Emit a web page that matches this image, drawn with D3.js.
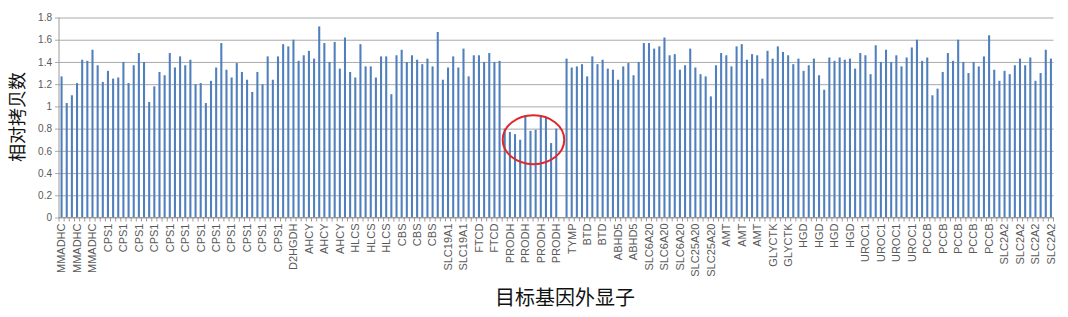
<!DOCTYPE html>
<html>
<head>
<meta charset="utf-8">
<script src="https://cdn.jsdelivr.net/npm/d3@7"></script>
<style>
  body { margin: 0; background: #fff; }
  svg { display: block; }
</style>
</head>
<body>
<div class="chart"></div>
<script>
//// data

// shown category labels (every 3rd category carries one)
const tickLabels = ['MMADHC','MMADHC','MMADHC',
    'CPS1','CPS1','CPS1','CPS1','CPS1','CPS1','CPS1','CPS1','CPS1','CPS1','CPS1','CPS1',
    'D2HGDH','AHCY','AHCY','AHCY','HLCS','HLCS','HLCS','CBS','CBS','CBS',
    'SLC19A1','SLC19A1','FTCD','FTCD','PRODH','PRODH','PRODH','PRODH','TYMP',
    'BTD','BTD','ABHD5','ABHD5','SLC6A20','SLC6A20','SLC6A20','SLC25A20','SLC25A20',
    'AMT','AMT','AMT','GLYCTK','GLYCTK','HGD','HGD','HGD','HGD',
    'UROC1','UROC1','UROC1','UROC1','PCCB','PCCB','PCCB','PCCB','PCCB',
    'SLC2A2','SLC2A2','SLC2A2','SLC2A2'];

// relative copy number for each exon amplicon
const copyNumber = [
    1.27,1.03,1.10,1.21,1.42,1.41,1.51,1.37,1.22,1.32,1.25,1.26,1.40,1.21,1.37,1.48,1.40,1.04,1.18,1.31,1.28,1.48,1.35,1.45,1.37,1.42,1.20,1.21,
    1.03,1.23,1.35,1.57,1.33,1.26,1.39,1.31,1.24,1.13,1.31,1.20,1.45,1.24,1.45,1.56,1.54,1.60,1.41,1.46,1.50,1.43,1.72,1.57,1.40,1.58,1.34,1.62,
    1.31,1.26,1.56,1.36,1.36,1.26,1.45,1.45,1.11,1.46,1.51,1.40,1.46,1.42,1.38,1.43,1.36,1.67,1.24,1.35,1.45,1.35,1.52,1.27,1.46,1.46,1.40,1.48,
    1.40,1.41,0.80,0.77,0.75,0.70,0.92,0.78,0.79,0.92,0.90,0.67,0.80,null,1.43,1.35,1.36,1.38,1.27,1.45,1.38,1.42,1.34,1.33,1.24,1.36,1.39,
    1.28,1.40,1.57,1.57,1.52,1.54,1.62,1.46,1.47,1.33,1.37,1.52,1.35,1.29,1.27,1.09,1.37,1.48,1.46,1.36,1.54,1.56,1.42,1.47,1.46,1.25,1.50,1.43,
    1.54,1.49,1.46,1.38,1.43,1.32,1.37,1.43,1.28,1.15,1.44,1.41,1.44,1.42,1.43,1.34,1.48,1.46,1.29,1.55,1.40,1.51,1.40,1.46,1.36,1.44,1.53,1.60,
    1.41,1.44,1.10,1.16,1.31,1.48,1.41,1.60,1.40,1.30,1.40,1.36,1.45,1.64,1.33,1.23,1.32,1.29,1.37,1.43,1.37,1.44,1.23,1.30,1.51,1.43];

const yTicks = [0,0.2,0.4,0.6,0.8,1,1.2,1.4,1.6,1.8];

// the circled PRODH bars
const circled = [86, 96];

const yTitle = '相对拷贝数';
const xTitle = '目标基因外显子';


//// build it

const data = copyNumber.map((v,i) => {
    return {
        idx: i,
        gene: tickLabels[Math.floor(i/3)],
        value: v
    }
});

const W = 1068, H = 317;
const plotL = 59, plotR = 1053.5, plotT = 17.5, plotB = 217.5;

const svg = d3.select('.chart')
    .append('svg')
    .attr('width', W)
    .attr('height', H);

const x = d3.scaleBand()
    .domain(data.map(d => d.idx))
    .range([plotL, plotR])
    .paddingInner(0.6)
    .paddingOuter(0.3);

const y = d3.scaleLinear()
    .domain([0, 1.8])
    .range([plotB, plotT]);

// gridlines + y axis
const yAxis = d3.axisLeft(y)
    .tickValues(yTicks)
    .tickSize(-(plotR - plotL))
    .tickPadding(7)
    .tickFormat(d => d3.format('~g')(d));

const gy = svg.append('g')
    .attr('transform', `translate(${plotL},0)`)
    .call(yAxis);
gy.select('.domain').remove();
gy.selectAll('.tick line')
    .attr('x1', -4)
    .style('stroke', '#a9a9a9')
    .style('stroke-width', 1);
gy.selectAll('.tick text')
    .style('font-family', '"Liberation Sans", Arial, sans-serif')
    .style('font-size', '10px')
    .style('fill', '#595959');

svg.append('line')
    .attr('x1', plotL).attr('x2', plotL)
    .attr('y1', plotT).attr('y2', plotB)
    .style('stroke', '#9a9a9a')
    .style('stroke-width', 1);

// bars
svg.append('g')
    .selectAll('rect')
    .data(data.filter(d => d.value != null))
    .enter()
    .append('rect')
    .attr('x', d => x(d.idx))
    .attr('width', x.bandwidth())
    .attr('y', d => y(d.value))
    .attr('height', d => y(0) - y(d.value))
    .style('fill', '#4f7fbc');

// category axis
const step = x.step();
const gx = svg.append('g');
gx.append('line')
    .attr('x1', plotL).attr('x2', plotR)
    .attr('y1', plotB).attr('y2', plotB)
    .style('stroke', '#9a9a9a');
gx.selectAll('.ctick')
    .data(d3.range(data.length + 1))
    .enter()
    .append('line')
    .attr('class', 'ctick')
    .attr('x1', i => plotL + i*step)
    .attr('x2', i => plotL + i*step)
    .attr('y1', plotB)
    .attr('y2', plotB + 4)
    .style('stroke', '#9a9a9a');

gx.selectAll('.clabel')
    .data(data.filter(d => d.idx % 3 == 0))
    .enter()
    .append('text')
    .attr('class', 'clabel')
    .attr('transform', d => `translate(${x(d.idx) + x.bandwidth()/2},${plotB + 6}) rotate(-90)`)
    .attr('dy', '0.35em')
    .attr('text-anchor', 'end')
    .style('font-family', '"Liberation Sans", Arial, sans-serif')
    .style('font-size', '11px')
    .style('fill', '#595959')
    .text(d => d.gene);

// red circle round the low PRODH bars
const cx = (x(circled[0]) + x(circled[1]) + x.bandwidth())/2 + 3;
svg.append('ellipse')
    .attr('cx', cx)
    .attr('cy', y(0.7))
    .attr('rx', (x(circled[1]) - x(circled[0]))/2 + 5)
    .attr('ry', y(0.48) - y(0.7))
    .style('fill', 'none')
    .style('stroke', '#e0282a')
    .style('stroke-width', 2);

// titles
svg.append('text')
    .attr('transform', 'translate(24,117) rotate(-90)')
    .attr('text-anchor', 'middle')
    .style('font-family', '"Noto Sans CJK SC", sans-serif')
    .style('font-size', '18px')
    .style('fill', '#111')
    .text(yTitle);

svg.append('text')
    .attr('x', 565)
    .attr('y', 305)
    .attr('text-anchor', 'middle')
    .style('font-family', '"Noto Sans CJK SC", sans-serif')
    .style('font-size', '20px')
    .style('fill', '#111')
    .text(xTitle);
</script>
</body>
</html>
